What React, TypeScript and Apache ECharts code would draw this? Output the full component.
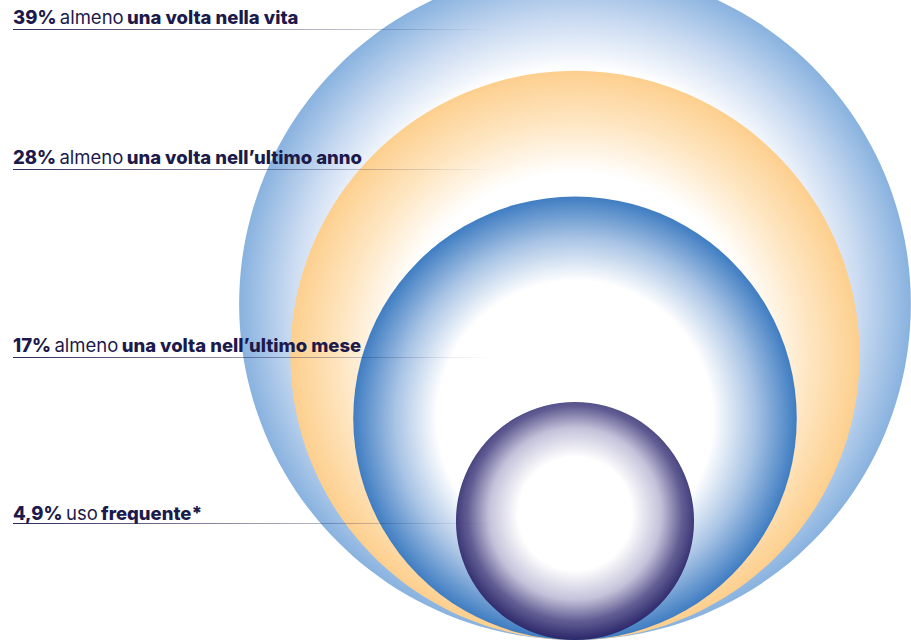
import React, { useEffect, useRef } from 'react';
import * as echarts from 'echarts';

// ---- data ----
const categories = ['tutti'];
const values = [39, 28, 17, 4.9];
const valueLabels = ['39%', '28%', '17%', '4,9%'];
const plainLabels = ['almeno', 'almeno', 'almeno', 'uso'];
const boldLabels = [
  'una volta nella vita',
  'una volta nell\u2019ultimo anno',
  'una volta nell\u2019ultimo mese',
  'frequente*',
];

// ---- styles / layout ----
const gradientStops: [number, string][][] = [
  [[0, '#ffffff'], [0.7, '#ffffff'], [0.85, '#c9daf1'], [1, '#88b2df']],
  [[0, '#ffffff'], [0.64, '#ffffff'], [0.82, '#fee6c2'], [1, '#fdcf8e']],
  [[0, '#ffffff'], [0.62, '#ffffff'], [0.81, '#a9c4e5'], [1, '#3f7dc2']],
  [[0, '#ffffff'], [0.45, '#ffffff'], [0.68, '#c4c2da'], [0.85, '#625e94'], [1, '#2b276a']],
];
const labelCapMiddle = [17, 157, 345, 513];
const lineY = [29, 169, 357, 523];
const textColor = '#1c1a4b';
const fontFamily = 'Inter';
const fontSize = 18.5;
const sqrtScaleMax = 11.9; // y axis in sqrt(value) units -> radius ~ 53.8px * sqrt(v)

export default function App() {
  const ref = useRef<HTMLDivElement>(null);

  useEffect(() => {
    if (!ref.current) return;
    const chart = echarts.init(ref.current, undefined, { renderer: 'svg' });

    const graphic: any[] = [];
    values.forEach((_, i) => {
      graphic.push({
        type: 'rect',
        z: 100,
        shape: { x: 13, y: lineY[i], width: 482, height: 1 },
        style: {
          fill: new echarts.graphic.LinearGradient(0, 0, 1, 0, [
            { offset: 0, color: 'rgba(30,28,80,0.95)' },
            { offset: 0.5, color: 'rgba(30,28,80,0.45)' },
            { offset: 1, color: 'rgba(30,28,80,0)' },
          ]),
        },
      });
      graphic.push({
        type: 'text',
        z: 101,
        x: 13,
        y: labelCapMiddle[i],
        style: {
          text: `{b|${valueLabels[i]}} {r|${plainLabels[i]}} {b|${boldLabels[i]}}`,
          verticalAlign: 'middle',
          align: 'left',
          rich: {
            b: { fontFamily, fontWeight: 800, fontSize, fill: textColor, color: textColor },
            r: { fontFamily, fontWeight: 'normal', fontSize, fill: textColor, color: textColor },
          },
        },
      });
    });

    chart.setOption({
      animation: false,
      grid: { left: 239, right: 0, top: 0, bottom: 0 },
      xAxis: { type: 'category', data: categories, show: false },
      yAxis: { type: 'value', min: 0, max: sqrtScaleMax, show: false },
      series: [
        {
          type: 'custom',
          clip: false,
          data: values.map((v) => [0, v]),
          renderItem: (params: any, api: any) => {
            const i = params.dataIndex;
            const v = api.value(1);
            const base = api.coord([api.value(0), 0]);
            const r = api.size([0, Math.sqrt(v)])[1];
            const dark = i === 3;
            return {
              type: 'circle',
              shape: { cx: base[0], cy: base[1] - r, r },
              style: {
                fill: new echarts.graphic.RadialGradient(
                  0.5,
                  dark ? 0.47 : 0.5,
                  dark ? 0.53 : 0.5,
                  gradientStops[i].map(([offset, color]) => ({ offset, color }))
                ),
              },
            };
          },
        },
      ],
      graphic,
    });

    return () => chart.dispose();
  }, []);

  return (
    <div
      ref={ref}
      style={{ position: 'absolute', left: 0, top: 0, width: 911, height: 640 }}
    />
  );
}
